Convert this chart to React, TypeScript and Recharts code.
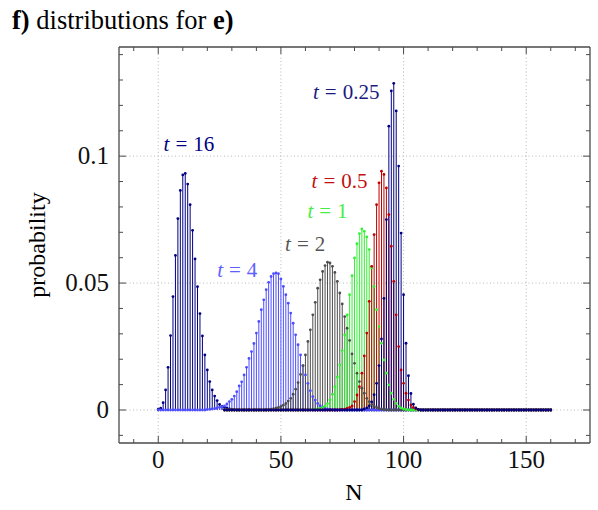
import React from 'react';
import { ComposedChart, Scatter, ErrorBar, XAxis, YAxis, CartesianGrid, ReferenceDot } from 'recharts';

// ---------- data ----------
const N_FIRST = 0;
const N_LAST = 160;

const X_TICKS = [-10, 0, 10, 20, 30, 40, 50, 60, 70, 80, 90, 100, 110, 120, 130, 140, 150, 160, 170];
const X_MAJOR = [0, 50, 100, 150];
const Y_TICKS = [-0.01, 0, 0.01, 0.02, 0.03, 0.04, 0.05, 0.06, 0.07, 0.08, 0.09, 0.1, 0.11, 0.12, 0.13, 0.14];
const Y_MAJOR = [0, 0.05, 0.1];
const Y_MAJOR_LABELS = ['0', '0.05', '0.1'];

// t = 16
const T16_START = 0;
const T16 = [0.0003, 0.0007, 0.0029, 0.0079, 0.0168, 0.0293, 0.0447, 0.0609, 0.0754, 0.0865, 0.0926, 0.0932,
  0.089, 0.0809, 0.0708, 0.0595, 0.0486, 0.038, 0.0292, 0.0217, 0.0158, 0.0112, 0.0079, 0.0055, 0.0037,
  0.0022, 0.0014, 0.001, 0.0007, 0.0004, 0.0002, 0.0001];

// t = 4
const T4_START = 20;
const T4 = [0.0002, 0.0003, 0.0004, 0.0006, 0.0008, 0.0011, 0.0013, 0.0016, 0.0024, 0.0033, 0.0042, 0.0055,
  0.0072, 0.0095, 0.0111, 0.0138, 0.0168, 0.0203, 0.023, 0.0262, 0.0303, 0.0349, 0.0395, 0.0434, 0.0474,
  0.0503, 0.0526, 0.0537, 0.054, 0.0537, 0.0516, 0.0487, 0.0454, 0.0421, 0.0382, 0.0342, 0.0296, 0.0257,
  0.0217, 0.0174, 0.0138, 0.0105, 0.0076, 0.0053, 0.0039, 0.0026, 0.0017, 0.0011, 0.0007, 0.0004, 0.0002, 0.0001];

// t = 2
const T2_START = 45;
const T2 = [0.0002, 0.0003, 0.0005, 0.0007, 0.001, 0.0014, 0.0019, 0.0026, 0.0035, 0.0046, 0.0062, 0.0082,
  0.0108, 0.014, 0.0175, 0.0217, 0.027, 0.0316, 0.0375, 0.0424, 0.048, 0.0513, 0.0546, 0.0569, 0.0582,
  0.0579, 0.0566, 0.0542, 0.0507, 0.0461, 0.0418, 0.0368, 0.0322, 0.0274, 0.0221, 0.0184, 0.0145, 0.0112,
  0.0086, 0.0066, 0.0046, 0.0033, 0.0022, 0.0015, 0.001, 0.0006, 0.0004, 0.0002, 0.0001];

// t = 1
const T1_START = 62;
const T1 = [0.0001, 0.0002, 0.0003, 0.0004, 0.0006, 0.0009, 0.0015, 0.0025, 0.004, 0.0062, 0.0092, 0.013,
  0.0178, 0.0234, 0.0296, 0.0375, 0.0454, 0.0529, 0.0599, 0.0655, 0.0695, 0.0713, 0.0704, 0.0682, 0.0632,
  0.0559, 0.0487, 0.0395, 0.0329, 0.0263, 0.0197, 0.0145, 0.0099, 0.0066, 0.0042, 0.0026, 0.0015, 0.0008,
  0.0004, 0.0002];

// t = 0.5
const T05_START = 74;
const T05 = [0.0001, 0.0002, 0.0003, 0.0006, 0.001, 0.0016, 0.0033, 0.0059, 0.0092, 0.0145, 0.0213, 0.0303,
  0.0428, 0.0566, 0.0691, 0.0809, 0.0895, 0.0941, 0.0928, 0.0875, 0.077, 0.0645, 0.0507, 0.0375, 0.025,
  0.0158, 0.0105, 0.0066, 0.0039, 0.002, 0.001, 0.0005, 0.0002];

// t = 0.25
const T025_START = 84;
const T025 = [0.0004, 0.0008, 0.0016, 0.0032, 0.006, 0.0105, 0.0175, 0.028, 0.044, 0.075, 0.1118, 0.1257,
  0.1287, 0.1178, 0.0961, 0.0697, 0.0454, 0.0263, 0.0135, 0.0065, 0.0023, 0.0008, 0.0002];

// ---------- styles ----------
const FONT = '"Liberation Serif", "Times New Roman", serif';
const FRAME = '#4a4a4a';
const C16 = '#000080';
const C4 = '#4d4dff';
const C2 = '#4d4d4d';
const C1 = '#33f033';
const C05 = '#bf0000';
const C025 = '#000080';

const SERIES = [
  { key: 't16', start: T16_START, values: T16, from: N_FIRST, to: N_LAST, color: C16 },
  { key: 't4', start: T4_START, values: T4, from: N_FIRST, to: N_LAST, color: C4 },
  { key: 't2', start: T2_START, values: T2, from: 27, to: N_LAST, color: C2 },
  { key: 't1', start: T1_START, values: T1, from: 27, to: N_LAST, color: C1 },
  { key: 't05', start: T05_START, values: T05, from: 27, to: N_LAST, color: C05 },
  { key: 't025', start: T025_START, values: T025, from: 27, to: N_LAST, color: C025 },
];

const LABELS = [
  { key: 'l16', text: '16', x: 12.5, y: 0.1046, color: C16 },
  { key: 'l4', text: '4', x: 32.2, y: 0.0553, color: '#6060ff' },
  { key: 'l2', text: '2', x: 59.9, y: 0.0655, color: '#555555' },
  { key: 'l1', text: '1', x: 69.0, y: 0.0782, color: '#44ee44' },
  { key: 'l05', text: '0.5', x: 73.9, y: 0.0904, color: '#c01010' },
  { key: 'l025', text: '0.25', x: 76.6, y: 0.1251, color: '#1a1a80' },
];

// two corner points so the mirrored (top / right) frame axes are in use
const FRAME_POINTS = [{ N: -16, p: -0.013 }, { N: 176, p: 0.143 }];

function buildSeries(start: number, values: number[], from: number, to: number) {
  const out: { N: number; p: number; err: number[] }[] = [];
  for (let n = from; n <= to; n++) {
    const i = n - start;
    const p = i >= 0 && i < values.length ? values[i] : 0;
    out.push({ N: n, p, err: [p, 0] });
  }
  return out;
}

const isMajorY = (v: number) => Y_MAJOR.some((m) => Math.abs(m - v) < 1e-9);
const majorYLabel = (v: number) => {
  const i = Y_MAJOR.findIndex((m) => Math.abs(m - v) < 1e-9);
  return i >= 0 ? Y_MAJOR_LABELS[i] : '';
};

const BottomTick = (props: any) => {
  const { x, y, payload } = props;
  const major = X_MAJOR.includes(payload.value);
  return (
    <g>
      <line x1={x} x2={x} y1={y} y2={y - (major ? 7 : 4)} stroke={FRAME} strokeWidth={1} />
      {major && (
        <text x={x} y={y + 25} textAnchor="middle" fontFamily={FONT} fontSize={25} fill="#111">
          {payload.value}
        </text>
      )}
    </g>
  );
};

const TopTick = (props: any) => {
  const { x, y, payload } = props;
  const major = X_MAJOR.includes(payload.value);
  return <line x1={x} x2={x} y1={y} y2={y + (major ? 7 : 4)} stroke={FRAME} strokeWidth={1} />;
};

const LeftTick = (props: any) => {
  const { x, y, payload } = props;
  const major = isMajorY(payload.value);
  return (
    <g>
      <line x1={x} x2={x + (major ? 7 : 4)} y1={y} y2={y} stroke={FRAME} strokeWidth={1} />
      {major && (
        <text x={x - 10} y={y + 8} textAnchor="end" fontFamily={FONT} fontSize={25} fill="#111">
          {majorYLabel(payload.value)}
        </text>
      )}
    </g>
  );
};

const RightTick = (props: any) => {
  const { x, y, payload } = props;
  const major = isMajorY(payload.value);
  return <line x1={x} x2={x - (major ? 7 : 4)} y1={y} y2={y} stroke={FRAME} strokeWidth={1} />;
};

const makeDot = (color: string) => (props: any) => {
  const { cx, cy } = props;
  if (cx == null || cy == null) return <g />;
  return <circle cx={cx} cy={cy} r={1.4} fill={color} />;
};

const NoDot = () => <g />;

const makeLabel = (text: string, color: string) => (props: any) => {
  const { cx, cy } = props;
  return (
    <text x={cx} y={cy + 7} textAnchor="middle" fontFamily={FONT} fontSize={21} fill={color}>
      <tspan fontStyle="italic">t</tspan>
      <tspan dx={6}>=</tspan>
      <tspan dx={6}>{text}</tspan>
    </text>
  );
};

export default function App() {
  return (
    <div style={{ position: 'absolute', left: 0, top: 0, width: 598, height: 510, background: '#fff', fontFamily: FONT }}>
      <div style={{ position: 'absolute', left: 12, top: 5, fontSize: 26.5, color: '#000', whiteSpace: 'nowrap', lineHeight: '30px' }}>
        <b>f)</b> distributions for <b>e)</b>
      </div>
      <div style={{ position: 'absolute', left: 354, top: 478, fontSize: 24, transform: 'translateX(-50%)', lineHeight: '28px' }}>N</div>
      <div
        style={{
          position: 'absolute', left: 37, top: 245, fontSize: 24, lineHeight: '28px', whiteSpace: 'nowrap',
          transform: 'translate(-50%, -50%) rotate(-90deg)',
        }}
      >
        probability
      </div>
      <div style={{ position: 'absolute', left: 0, top: 0 }}>
        <ComposedChart width={598} height={510} margin={{ top: 46, right: 7, bottom: 0, left: 0 }}>
          <CartesianGrid
            xAxisId="x"
            yAxisId="y"
            verticalValues={X_MAJOR}
            horizontalValues={Y_MAJOR}
            stroke="#b8b8b8"
            strokeDasharray="1 2.5"
            strokeWidth={1}
          />
          <XAxis
            xAxisId="x"
            dataKey="N"
            type="number"
            domain={[-16, 176]}
            allowDataOverflow
            ticks={X_TICKS}
            interval={0}
            height={67}
            orientation="bottom"
            tickLine={false}
            tickSize={0}
            tickMargin={0}
            axisLine={{ stroke: FRAME, strokeWidth: 1.3 }}
            tick={<BottomTick />}
          />
          <XAxis
            xAxisId="xt"
            dataKey="N"
            type="number"
            domain={[-16, 176]}
            allowDataOverflow
            ticks={X_TICKS}
            interval={0}
            height={1}
            orientation="top"
            tickLine={false}
            tickSize={0}
            tickMargin={0}
            axisLine={{ stroke: FRAME, strokeWidth: 1.3 }}
            tick={<TopTick />}
          />
          <YAxis
            yAxisId="y"
            dataKey="p"
            type="number"
            domain={[-0.013, 0.143]}
            allowDataOverflow
            ticks={Y_TICKS}
            interval={0}
            width={119}
            orientation="left"
            tickLine={false}
            tickSize={0}
            tickMargin={0}
            axisLine={{ stroke: FRAME, strokeWidth: 1.3 }}
            tick={<LeftTick />}
          />
          <YAxis
            yAxisId="yr"
            dataKey="p"
            type="number"
            domain={[-0.013, 0.143]}
            allowDataOverflow
            ticks={Y_TICKS}
            interval={0}
            width={1}
            orientation="right"
            tickLine={false}
            tickSize={0}
            tickMargin={0}
            axisLine={{ stroke: FRAME, strokeWidth: 1.3 }}
            tick={<RightTick />}
          />
          <Scatter
            xAxisId="xt"
            yAxisId="yr"
            data={FRAME_POINTS}
            dataKey="p"
            isAnimationActive={false}
            shape={<NoDot />}
          />
          {SERIES.map((s) => (
            <Scatter
              key={s.key}
              xAxisId="x"
              yAxisId="y"
              data={buildSeries(s.start, s.values, s.from, s.to)}
              dataKey="p"
              isAnimationActive={false}
              shape={makeDot(s.color)}
            >
              <ErrorBar dataKey="err" direction="y" width={0} stroke={s.color} strokeWidth={1} isAnimationActive={false} />
            </Scatter>
          ))}
          {LABELS.map((l) => (
            <ReferenceDot
              key={l.key}
              xAxisId="x"
              yAxisId="y"
              x={l.x}
              y={l.y}
              r={0}
              ifOverflow="visible"
              shape={makeLabel(l.text, l.color)}
            />
          ))}
        </ComposedChart>
      </div>
    </div>
  );
}
